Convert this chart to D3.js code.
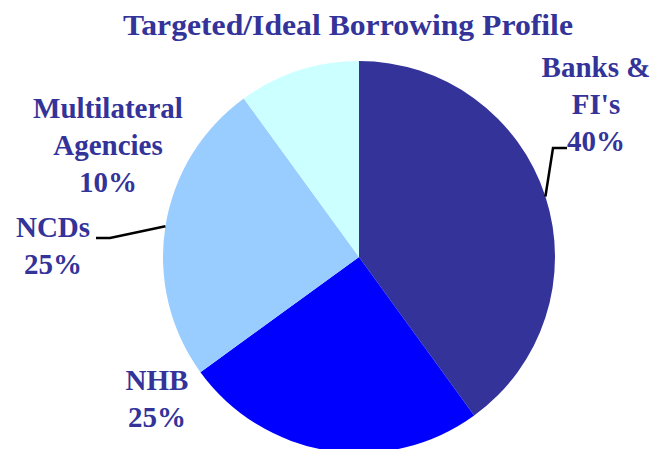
<!DOCTYPE html>
<html>
<head>
<meta charset="utf-8">
<script src="https://cdn.jsdelivr.net/npm/d3@7"></script>
<style>
    body { margin: 0; background: white; }
    svg { display: block; }
    text { font-family: "Liberation Serif", "Times New Roman", serif; font-weight: bold; fill: #333399; }
</style>
</head>
<body>
<div id="chart"></div>
<script>
// Data
const categories = ['Banks & FI\'s', 'NHB', 'NCDs', 'Multilateral Agencies'];
const shares = [40, 25, 25, 10];
const labelLines = [['Banks &', 'FI\'s', '40%'], ['NHB', '25%'], ['NCDs', '25%'], ['Multilateral', 'Agencies', '10%']];
const colors = ['#333399', '#0000ff', '#99ccff', '#ccffff'];

// layout: label anchor (centre x, first baseline) and leader elbow per slice
const labelPos = [[596, 77], [157, 390], [53, 237], [108, 118]];
const leaders = [[[553, 148], [567, 148]], null, [[110, 238], [96, 238]], null];

const width = 654, height = 449;
const cx = 359, cy = 257, radius = 196;

const svg = d3.select('#chart')
    .append('svg')
        .attr('width', width)
        .attr('height', height);

svg.append('text')
    .attr('x', 348)
    .attr('y', 35)
    .attr('text-anchor', 'middle')
    .attr('font-size', 29)
    .attr('textLength', 450)
    .attr('lengthAdjust', 'spacingAndGlyphs')
    .text('Targeted/Ideal Borrowing Profile');

const data = categories.map((c, i) => ({ category: c, value: shares[i], index: i }));

const pie = d3.pie()
    .sort(null)
    .value(d => d.value);

const arc = d3.arc()
    .innerRadius(0)
    .outerRadius(radius);

const graph = svg.append('g')
    .attr('transform', `translate(${cx},${cy})`);

const slices = pie(data);

graph.selectAll('path')
    .data(slices)
    .enter()
    .append('path')
        .attr('d', arc)
        .attr('fill', d => colors[d.data.index]);

// leader lines start at the slice's mid angle on the rim
slices.forEach(s => {
    const elbow = leaders[s.data.index];
    if (!elbow) return;
    const a = (s.startAngle + s.endAngle) / 2;
    const start = [cx + radius * Math.sin(a), cy - radius * Math.cos(a)];
    svg.append('path')
        .attr('d', d3.line()([start, ...elbow]))
        .attr('fill', 'none')
        .attr('stroke', 'black')
        .attr('stroke-width', 2.5);
});

const labels = svg.selectAll('.label')
    .data(data)
    .enter()
    .append('text')
        .attr('class', 'label')
        .attr('text-anchor', 'middle')
        .attr('font-size', 29);

labels.each(function(d) {
    const [x, y] = labelPos[d.index];
    d3.select(this).selectAll('tspan')
        .data(labelLines[d.index])
        .enter()
        .append('tspan')
            .attr('x', x)
            .attr('y', (t, j) => y + j * 37)
            .text(t => t);
});
</script>
</body>
</html>
